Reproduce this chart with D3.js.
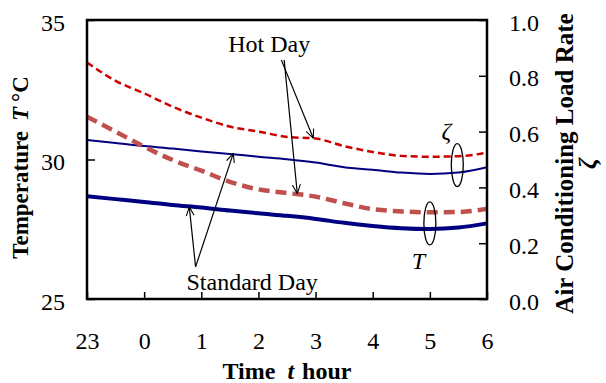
<!DOCTYPE html>
<html>
<head>
<meta charset="utf-8">
<script src="https://cdn.jsdelivr.net/npm/d3@7"></script>
<style>
  body { margin: 0; background: #fff; }
  svg text { font-family: "Liberation Serif", "Times New Roman", serif; }
</style>
</head>
<body>
<svg id="chart" width="606" height="383"></svg>
<script>
// Hours after 23:00, half-hour steps
const hourOffset = [0, 0.5, 1, 1.5, 2, 2.5, 3, 3.5, 4, 4.5, 5, 5.5, 6, 6.5, 7];
const hourTicks = [0, 1, 2, 3, 4, 5, 6, 7];
const hourLabels = ["23", "0", "1", "2", "3", "4", "5", "6"];
const tempTicks = [25, 30, 35];
const zetaTicks = [0, 0.2, 0.4, 0.6, 0.8, 1.0];

// Air conditioning load rate (right axis)
const hotZeta = [0.848, 0.782, 0.737, 0.689, 0.650, 0.618, 0.600, 0.581, 0.575, 0.548, 0.527, 0.513, 0.510, 0.512, 0.524];
const stdZeta = [0.570, 0.559, 0.548, 0.539, 0.529, 0.520, 0.510, 0.501, 0.489, 0.472, 0.463, 0.453, 0.448, 0.453, 0.472];
// Temperature (left axis)
const hotTemp = [31.53, 31.00, 30.46, 29.98, 29.60, 29.20, 28.93, 28.80, 28.67, 28.43, 28.22, 28.14, 28.11, 28.12, 28.23];
const stdTemp = [28.68, 28.58, 28.48, 28.37, 28.28, 28.17, 28.07, 27.98, 27.87, 27.73, 27.62, 27.54, 27.51, 27.56, 27.71];

const svg = d3.select("#chart");
const margin = { top: 20, right: 119, bottom: 84, left: 87 };
const width = +svg.attr("width") - margin.left - margin.right;
const height = +svg.attr("height") - margin.top - margin.bottom;

const x = d3.scaleLinear().domain([0, 7]).range([0, width]);
const yT = d3.scaleLinear().domain([25, 35]).range([height, 0]);
const yZ = d3.scaleLinear().domain([0, 1]).range([height, 0]);

svg.append("defs").append("marker")
    .attr("id", "arrow")
    .attr("viewBox", "0 -5 10 10")
    .attr("refX", 10).attr("refY", 0)
    .attr("markerWidth", 9).attr("markerHeight", 9)
    .attr("markerUnits", "userSpaceOnUse")
    .attr("orient", "auto")
    .append("path")
    .attr("d", "M0,-4.5L10,0L0,4.5")
    .attr("fill", "none")
    .attr("stroke", "#000")
    .attr("stroke-width", 1.2);

const g = svg.append("g").attr("transform", `translate(${margin.left},${margin.top})`);

// axes - d3 puts sans-serif on the group, override it
const styleAxis = sel => {
    sel.attr("font-family", "Liberation Serif, serif").attr("font-size", 24);
    sel.select(".domain").remove();
    sel.selectAll(".tick line").attr("stroke", "#000").attr("stroke-width", 1.5);
    sel.selectAll(".tick text").attr("fill", "#000")
        .attr("font-family", "Liberation Serif, serif").style("font-size", "24px");
};

g.append("g")
    .call(d3.axisLeft(yT).tickValues(tempTicks).tickSize(-8).tickPadding(22).tickFormat(d3.format("d")))
    .call(styleAxis)
    .selectAll(".tick text").attr("dy", "0.42em");

g.append("g")
    .attr("transform", `translate(${width},0)`)
    .call(d3.axisRight(yZ).tickValues(zetaTicks).tickSize(-8).tickPadding(22).tickFormat(d3.format(".1f")))
    .call(styleAxis)
    .selectAll(".tick text").attr("dy", "0.42em");

g.append("g")
    .attr("transform", `translate(0,${height})`)
    .call(d3.axisBottom(x).tickValues(hourTicks).tickSize(-7).tickPadding(33).tickFormat((d, i) => hourLabels[i]))
    .call(styleAxis);

// lines
const lineT = d3.line().x((d, i) => x(hourOffset[i])).y(d => yT(d)).curve(d3.curveMonotoneX);
const lineZ = d3.line().x((d, i) => x(hourOffset[i])).y(d => yZ(d)).curve(d3.curveMonotoneX);

g.append("path").datum(stdZeta).attr("d", lineZ)
    .attr("fill", "none").attr("stroke", "#000080").attr("stroke-width", 2);
g.append("path").datum(hotZeta).attr("d", lineZ)
    .attr("fill", "none").attr("stroke", "#cc0000").attr("stroke-width", 2.5)
    .attr("stroke-dasharray", "7,4");
g.append("path").datum(stdTemp).attr("d", lineT)
    .attr("fill", "none").attr("stroke", "#000080").attr("stroke-width", 4);
g.append("path").datum(hotTemp).attr("d", lineT)
    .attr("fill", "none").attr("stroke", "#c0504d").attr("stroke-width", 4.5)
    .attr("stroke-dasharray", "11,6");

// frame
g.append("rect")
    .attr("width", width).attr("height", height)
    .attr("fill", "none").attr("stroke", "#000").attr("stroke-width", 2.5);

// annotations: arrows
const arrows = [
    { from: [3.40, yT(33.57)], to: [3.96, yZ(0.576)] },
    { from: [3.45, yT(33.57)], to: [3.68, yT(28.78)] },
    { from: [1.90, yT(26.15)], to: [1.79, yT(28.30)] },
    { from: [1.90, yT(26.15)], to: [2.56, yZ(0.522)] }
];
g.selectAll(".arrow").data(arrows).join("line")
    .attr("x1", d => x(d.from[0])).attr("y1", d => d.from[1])
    .attr("x2", d => x(d.to[0])).attr("y2", d => d.to[1])
    .attr("stroke", "#000").attr("stroke-width", 1.2)
    .attr("marker-end", "url(#arrow)");

g.append("text").attr("x", x(3.19)).attr("y", yT(33.86))
    .attr("text-anchor", "middle").style("font-size", "24px").text("Hot Day");
g.append("text").attr("x", x(2.89)).attr("y", yT(25.33))
    .attr("text-anchor", "middle").style("font-size", "24px").text("Standard Day");

// group ellipses
g.append("ellipse").attr("cx", x(6.48)).attr("cy", yZ(0.48))
    .attr("rx", 6).attr("ry", 21.5)
    .attr("fill", "none").attr("stroke", "#000").attr("stroke-width", 1.3);
g.append("ellipse").attr("cx", x(6.0)).attr("cy", yT(27.71))
    .attr("rx", 6).attr("ry", 21.5)
    .attr("fill", "none").attr("stroke", "#000").attr("stroke-width", 1.3);
g.append("text").attr("x", x(6.29)).attr("y", yZ(0.573))
    .attr("text-anchor", "middle").style("font-size", "24px").style("font-style", "italic").text("ζ");
g.append("text").attr("x", x(5.80)).attr("y", yT(26.07))
    .attr("text-anchor", "middle").style("font-size", "24px").style("font-style", "italic").text("T");

// axis titles
const xt = svg.append("text")
    .attr("x", margin.left + width / 2).attr("y", 379)
    .attr("text-anchor", "middle")
    .style("font-size", "24px").style("font-weight", "bold");
xt.append("tspan").text("Time");
xt.append("tspan").attr("dx", 12).style("font-style", "italic").text("t");
xt.append("tspan").attr("dx", 8).text("hour");

const lt = svg.append("text")
    .attr("transform", `translate(28,${margin.top + height / 2 + 8}) rotate(-90)`)
    .attr("text-anchor", "middle")
    .style("font-size", "23px").style("font-weight", "bold");
lt.append("tspan").text("Temperature");
lt.append("tspan").attr("dx", 10).style("font-style", "italic").text("T");
lt.append("tspan").attr("dx", 5).text("°C");

const rt = svg.append("g")
    .attr("transform", `translate(573,${margin.top + height / 2 + 4}) rotate(-90)`);
rt.append("text").attr("text-anchor", "middle")
    .style("font-size", "25px").style("font-weight", "bold")
    .text("Air Conditioning Load Rate");
rt.append("text").attr("text-anchor", "middle").attr("y", 23)
    .style("font-size", "25px").style("font-weight", "bold").style("font-style", "italic")
    .text("ζ");
</script>
</body>
</html>
